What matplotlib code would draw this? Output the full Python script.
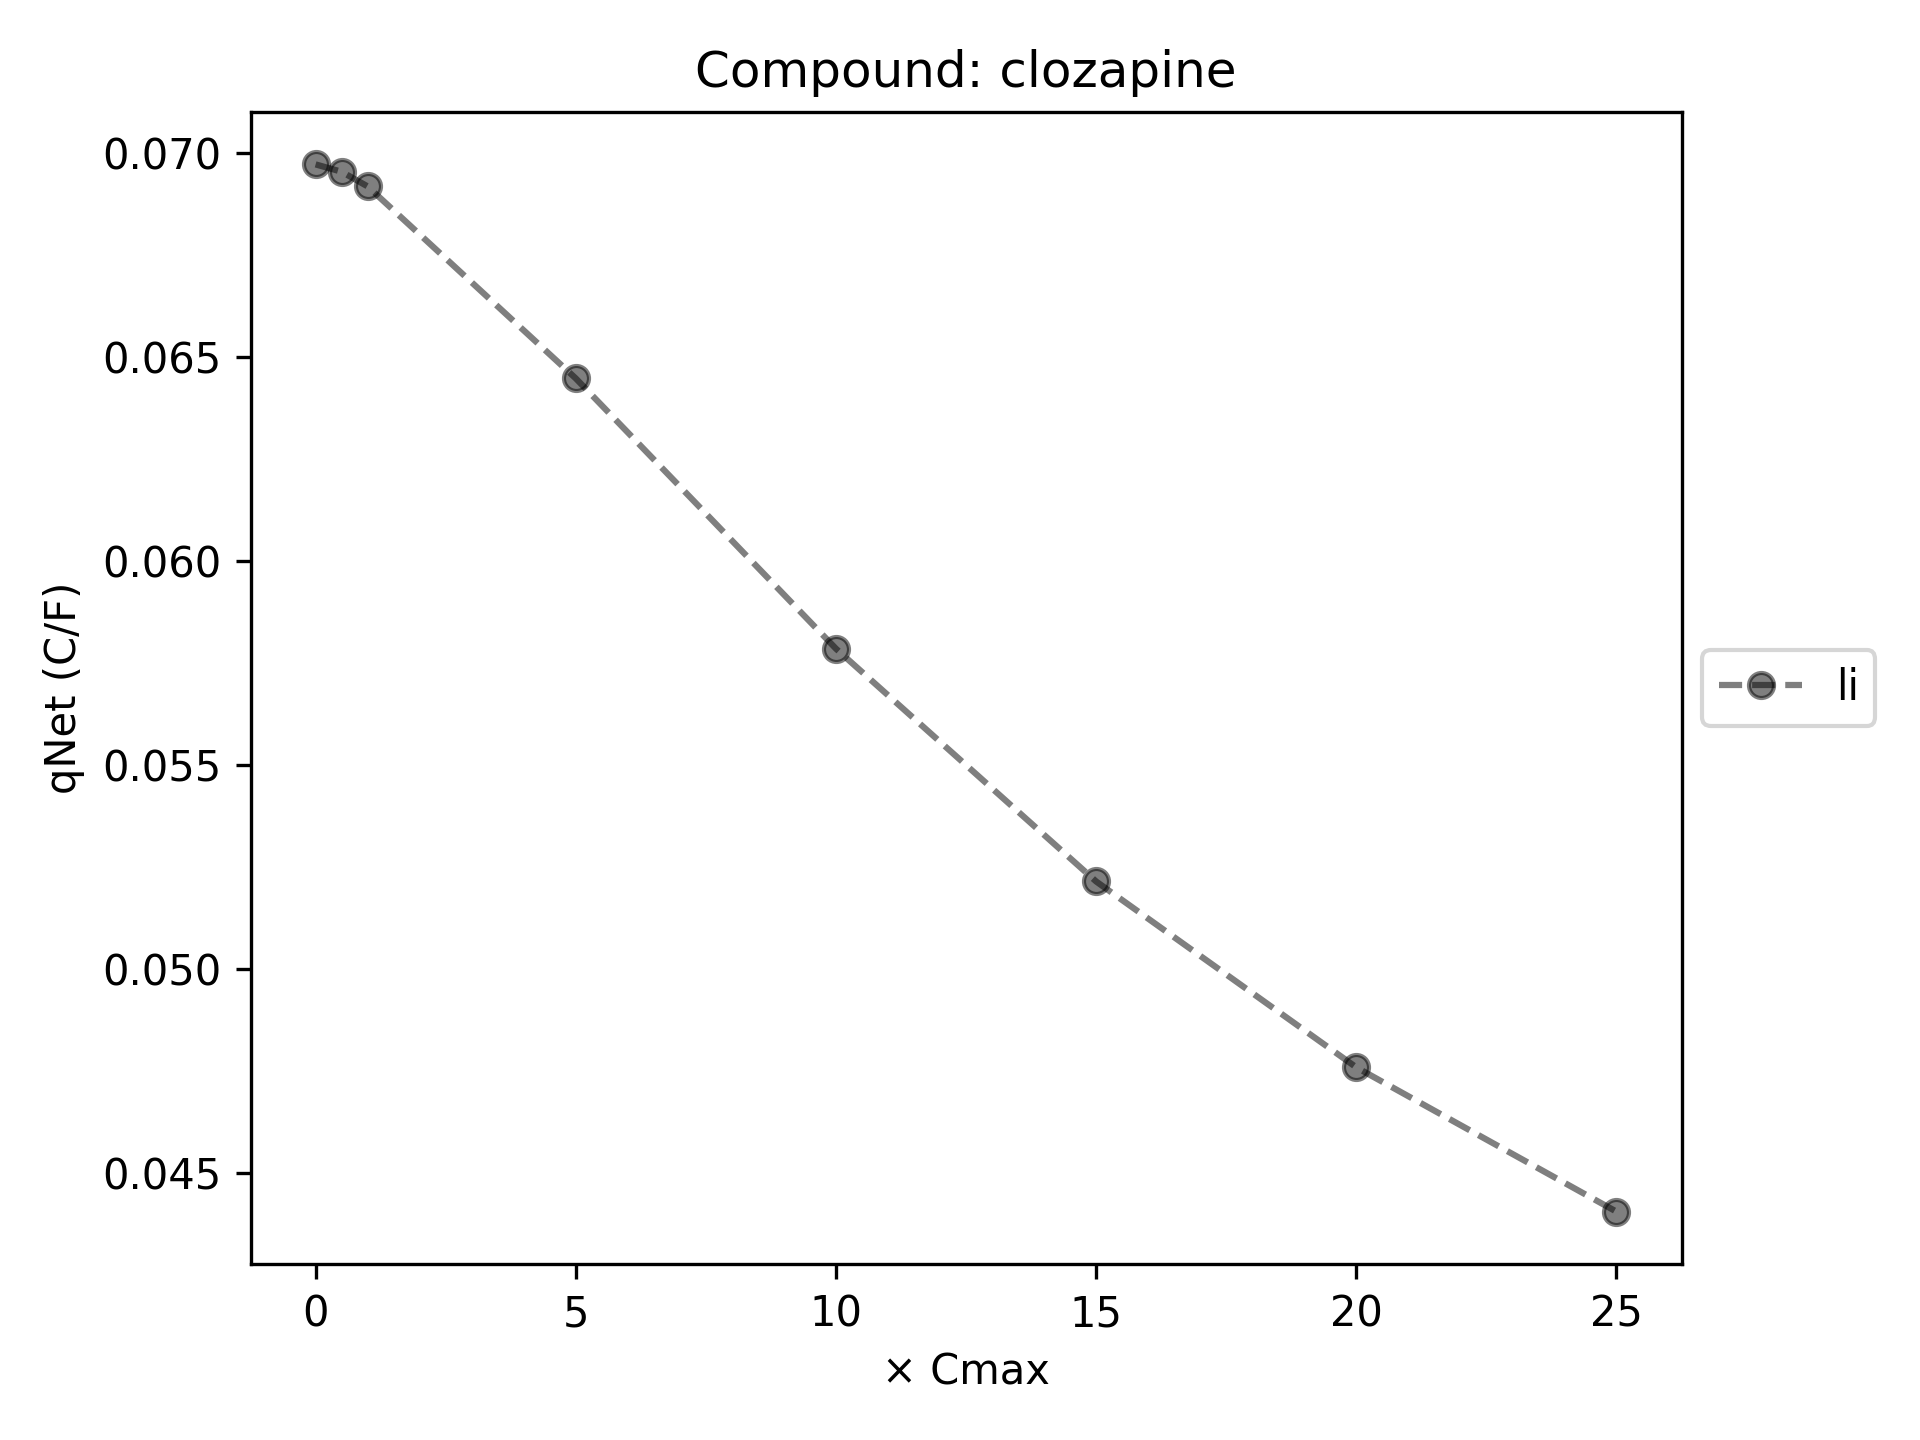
import matplotlib
matplotlib.use('Agg')
import matplotlib.pyplot as plt

# data
cmax_mult = [0, 0.5, 1, 5, 10, 15, 20, 25]
qnet = [0.06973, 0.06955, 0.06919, 0.06448, 0.05785, 0.05214, 0.04758, 0.04404]
series_label = 'li'
compound = 'clozapine'

fig, ax = plt.subplots(figsize=(6.4, 4.8), dpi=300)
fig.subplots_adjust(left=0.1305, right=0.8758, top=0.9222, bottom=0.1222)

ax.plot(cmax_mult, qnet, 'o--', color='k', alpha=0.5, label=series_label)

ax.set_title(f'Compound: {compound}')
ax.set_xlabel('\u00d7 Cmax')
ax.set_ylabel('qNet (C/F)')
ax.legend(loc='center left', bbox_to_anchor=(1, 0.5))

fig.savefig('out.png', dpi=300)
